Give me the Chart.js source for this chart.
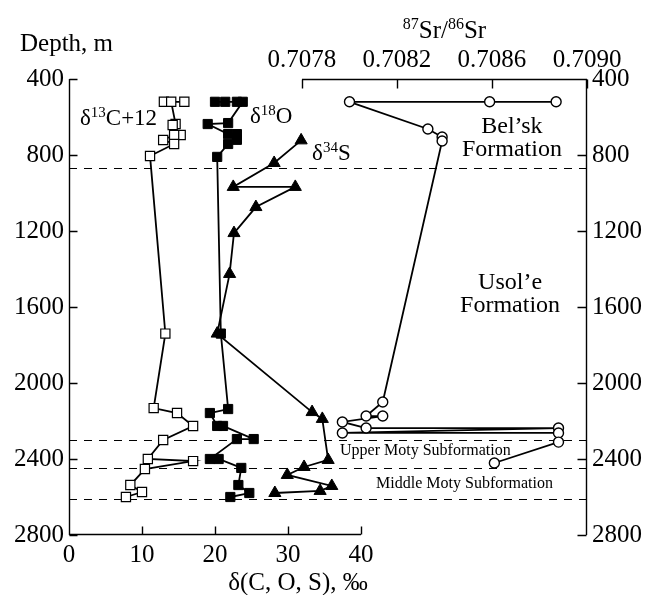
<!DOCTYPE html>
<html><head><meta charset="utf-8">
<script src="https://cdn.jsdelivr.net/npm/chart.js@4"></script>
<style>html,body{margin:0;padding:0;background:#fff}#wrap{width:647px;height:595px}</style>
</head><body><div id="wrap"><canvas id="c" width="647" height="595"></canvas></div>
<script>
// ---------- data ----------
const depthTicks = [400, 800, 1200, 1600, 2000, 2400, 2800];
const deltaTicks = [0, 10, 20, 30, 40];
const srTicks = [0.7078, 0.7082, 0.7086, 0.7090];
const boundaryDepths = [870, 2300, 2445, 2610];

const carbonDepth = [520, 520, 520, 637, 642, 695, 695, 721, 742, 805, 1740, 2132, 2158, 2226, 2300, 2400, 2411, 2453, 2537, 2574, 2600];
const carbonValue = [13.0, 15.8, 14.0, 14.6, 14.2, 15.3, 14.4, 12.9, 14.4, 11.1, 13.2, 11.6, 14.8, 17.0, 12.9, 10.8, 17.0, 10.4, 8.4, 10.0, 7.8];

const oxygenDepth = [520, 520, 520, 520, 632, 637, 690, 690, 720, 742, 810, 1740, 2137, 2158, 2226, 2226, 2295, 2295, 2400, 2400, 2447, 2537, 2579, 2600];
const oxygenValue = [20.0, 21.4, 23.0, 23.8, 21.8, 19.0, 21.8, 23.0, 23.0, 21.8, 20.3, 20.8, 21.8, 19.3, 20.3, 21.1, 25.3, 23.0, 19.3, 20.5, 23.6, 23.2, 24.7, 22.1];

const sulfurDepth = [723, 842, 968, 968, 1074, 1211, 1426, 1740, 2153, 2189, 2405, 2442, 2484, 2542, 2568, 2579];
const sulfurValue = [31.8, 28.1, 22.5, 31.0, 25.6, 22.6, 22.0, 20.3, 33.3, 34.7, 35.5, 32.2, 29.9, 36.0, 34.4, 28.2];

const strontiumDepth = [520, 520, 520, 663, 705, 726, 2100, 2174, 2174, 2205, 2237, 2237, 2263, 2263, 2311, 2421];
const strontiumRatio = [0.70887, 0.70859, 0.70800, 0.70833, 0.70839, 0.70839, 0.70814, 0.70807, 0.70814, 0.70797, 0.70807, 0.70888, 0.70797, 0.70888, 0.70888, 0.70861];

// ---------- helpers ----------
const FONT = '"Liberation Serif", "Times New Roman", serif';
const pts = (xs, ys) => xs.map((v, i) => ({ x: v, y: ys[i] }));

function drawRich(ctx, parts, x, y, align, size) {
  const supSize = Math.round(size * 0.64);
  let w = 0;
  parts.forEach(p => { ctx.font = (p[1] ? supSize : size) + 'px ' + FONT; w += ctx.measureText(p[0]).width; });
  let cx = align === 'center' ? x - w / 2 : (align === 'right' ? x - w : x);
  ctx.textAlign = 'left'; ctx.textBaseline = 'alphabetic';
  parts.forEach(p => {
    ctx.font = (p[1] ? supSize : size) + 'px ' + FONT;
    ctx.fillText(p[0], cx, p[1] ? y - size * 0.36 : y);
    cx += ctx.measureText(p[0]).width;
  });
}

// annotations anchored in data units (scale, value, depth of baseline)
const annotations = [
  { parts: [['δ'], ['13', 1], ['C+12']], scale: 'x', v: 1.5, d: 642, align: 'left', size: 23 },
  { parts: [['δ'], ['18', 1], ['O']], scale: 'x', v: 24.8, d: 632, align: 'left', size: 23 },
  { parts: [['δ'], ['34', 1], ['S']], scale: 'x', v: 33.3, d: 826, align: 'left', size: 23 },
  { parts: [['Bel’sk']], scale: 'x2', v: 0.708684, d: 684, align: 'center', size: 24 },
  { parts: [['Formation']], scale: 'x2', v: 0.708684, d: 805, align: 'center', size: 24 },
  { parts: [['Usol’e']], scale: 'x2', v: 0.708676, d: 1505, align: 'center', size: 24 },
  { parts: [['Formation']], scale: 'x2', v: 0.708676, d: 1626, align: 'center', size: 24 },
  { parts: [['Upper Moty Subformation']], scale: 'x2', v: 0.70796, d: 2379, align: 'left', size: 16 },
  { parts: [['Middle Moty Subformation']], scale: 'x2', v: 0.708112, d: 2553, align: 'left', size: 16 }
];

const framePlugin = {
  id: 'frame',
  beforeDatasetsDraw(chart) {
    const { ctx, chartArea, scales } = chart;
    ctx.save();
    ctx.setLineDash([8, 7]); ctx.lineWidth = 1; ctx.strokeStyle = '#000';
    boundaryDepths.forEach(d => {
      const py = Math.round(scales.y.getPixelForValue(d)) + 0.5;
      ctx.beginPath(); ctx.moveTo(chartArea.left, py); ctx.lineTo(chartArea.right, py); ctx.stroke();
    });
    ctx.restore();
  },
  afterDraw(chart) {
    const { ctx, scales } = chart;
    const { x, x2, y, y2 } = scales;
    ctx.save();
    ctx.strokeStyle = '#000'; ctx.lineWidth = 1.4; ctx.setLineDash([]);
    const L = Math.round(y.right) + 0.5, R = Math.round(y2.left) - 0.5;
    const yTop = y.getPixelForValue(400), yBot = y.getPixelForValue(2800);
    // left axis
    ctx.beginPath(); ctx.moveTo(L, yTop); ctx.lineTo(L, yBot);
    depthTicks.forEach(d => { const p = Math.round(y.getPixelForValue(d)) + 0.5; ctx.moveTo(L, p); ctx.lineTo(L + 8, p); });
    // bottom axis
    const B = Math.round(x.top) - 0.5;
    ctx.moveTo(x.getPixelForValue(deltaTicks[0]), B); ctx.lineTo(x.getPixelForValue(deltaTicks[deltaTicks.length - 1]), B);
    deltaTicks.forEach(v => { const p = Math.round(x.getPixelForValue(v)) + 0.5; ctx.moveTo(p, B); ctx.lineTo(p, B - 8); });
    // top axis
    const T = Math.round(x2.bottom) + 0.5;
    ctx.moveTo(x2.getPixelForValue(srTicks[0]), T); ctx.lineTo(x2.getPixelForValue(srTicks[srTicks.length - 1]), T);
    srTicks.forEach(v => { const p = Math.round(x2.getPixelForValue(v)) + 0.5; ctx.moveTo(p, T); ctx.lineTo(p, T + 9); });
    // right axis
    ctx.moveTo(R, y2.getPixelForValue(400)); ctx.lineTo(R, y2.getPixelForValue(2800));
    depthTicks.forEach(d => { const p = Math.round(y2.getPixelForValue(d)) + 0.5; ctx.moveTo(R, p); ctx.lineTo(R - 9, p); });
    ctx.stroke();

    ctx.fillStyle = '#000';
    // axis titles
    drawRich(ctx, [['Depth, m']], 20, 51, 'left', 25);
    drawRich(ctx, [['87', 1], ['Sr/'], ['86', 1], ['Sr']], (x2.getPixelForValue(srTicks[0]) + x2.getPixelForValue(srTicks[3])) / 2, 38, 'center', 25);
    drawRich(ctx, [['δ(C, O, S), ‰']], 298, 590, 'center', 25);
    // annotations
    annotations.forEach(a => {
      drawRich(ctx, a.parts, scales[a.scale].getPixelForValue(a.v), y.getPixelForValue(a.d), a.align, a.size);
    });
    ctx.restore();
  }
};

const tickFont = { family: FONT, size: 25 };
const hideGrid = { display: false, drawTicks: false };

new Chart(document.getElementById('c'), {
  type: 'scatter',
  data: {
    datasets: [
      { label: 'δ13C+12', data: pts(carbonValue, carbonDepth), xAxisID: 'x', yAxisID: 'y', showLine: true,
        borderColor: '#000', borderWidth: 1.8, pointStyle: 'rect', pointRadius: 6.5, pointBackgroundColor: '#fff', pointBorderColor: '#000', pointBorderWidth: 1.2 },
      { label: 'δ18O', data: pts(oxygenValue, oxygenDepth), xAxisID: 'x', yAxisID: 'y', showLine: true,
        borderColor: '#000', borderWidth: 1.8, pointStyle: 'rect', pointRadius: 6.5, pointBackgroundColor: '#000', pointBorderColor: '#000', pointBorderWidth: 1 },
      { label: 'δ34S', data: pts(sulfurValue, sulfurDepth), xAxisID: 'x', yAxisID: 'y', showLine: true,
        borderColor: '#000', borderWidth: 1.8, pointStyle: 'triangle', pointRadius: 7, pointBackgroundColor: '#000', pointBorderColor: '#000', pointBorderWidth: 1 },
      { label: '87Sr/86Sr', data: pts(strontiumRatio, strontiumDepth), xAxisID: 'x2', yAxisID: 'y2', showLine: true,
        borderColor: '#000', borderWidth: 1.8, pointStyle: 'circle', pointRadius: 5, pointBackgroundColor: '#fff', pointBorderColor: '#000', pointBorderWidth: 1.4 }
    ]
  },
  options: {
    responsive: false, animation: false, clip: false,
    layout: { padding: 0 },
    plugins: { legend: { display: false }, tooltip: { enabled: false } },
    scales: {
      x: { type: 'linear', position: 'bottom', min: 0, max: 70.96,
        afterBuildTicks: s => { s.ticks = deltaTicks.map(v => ({ value: v })); },
        afterFit: s => { s.height = 60; },
        grid: hideGrid, border: { display: false },
        ticks: { font: tickFont, color: '#000', padding: 5, maxRotation: 0, autoSkip: false, callback: v => String(v) } },
      x2: { type: 'linear', position: 'top', min: 0.706819, max: 0.7090,
        afterBuildTicks: s => { s.ticks = srTicks.map(v => ({ value: v })); },
        afterFit: s => { s.height = 79; },
        grid: hideGrid, border: { display: false },
        ticks: { font: tickFont, color: '#000', padding: 4, maxRotation: 0, autoSkip: false, callback: v => Number(v).toFixed(4) } },
      y: { type: 'linear', position: 'left', reverse: true, min: 400, max: 2800,
        afterBuildTicks: s => { s.ticks = depthTicks.map(v => ({ value: v })); },
        afterFit: s => { s.width = 69; },
        grid: hideGrid, border: { display: false },
        ticks: { font: tickFont, color: '#000', padding: 5, autoSkip: false, callback: v => String(v) } },
      y2: { type: 'linear', position: 'right', reverse: true, min: 400, max: 2800,
        afterBuildTicks: s => { s.ticks = depthTicks.map(v => ({ value: v })); },
        afterFit: s => { s.width = 60; },
        grid: hideGrid, border: { display: false },
        ticks: { font: tickFont, color: '#000', padding: 5, autoSkip: false, callback: v => String(v) } }
    }
  },
  plugins: [framePlugin]
});
</script></body></html>
